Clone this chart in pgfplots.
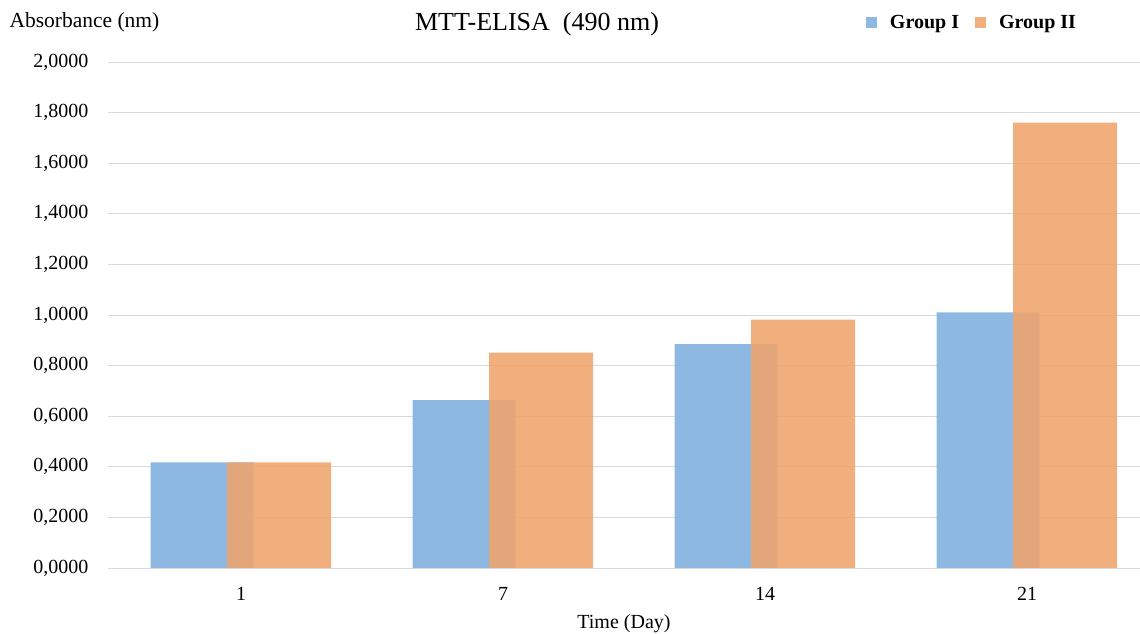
\documentclass[border=0pt]{standalone}
\usepackage{fontspec}
\setmainfont{Liberation Serif}
\usepackage{pgfplots}
\pgfplotsset{compat=1.18}

\definecolor{gblue}{RGB}{141,184,226}
\definecolor{gorange}{RGB}{240,164,108}
\definecolor{gridgray}{RGB}{217,217,217}

\pgfplotstableread{
x  g1     g2
0  0.417  0.417
1  0.664  0.851
2  0.885  0.982
3  1.010  1.760
}\absdata

\begin{document}
\begin{tikzpicture}
\useasboundingbox (0,0) rectangle (1140bp,634bp);
\begin{axis}[
  at={(108bp,66bp)}, anchor=south west,
  scale only axis,
  width=1032bp, height=506bp,
  xmin=-0.508, xmax=3.431,
  ymin=0, ymax=2,
  ytick={0,0.2,...,2.01},
  xtick={0,1,2,3},
  xticklabels={1,7,14,21},
  ymajorgrids,
  major grid style={gridgray, line width=0.9bp},
  axis line style={draw=none},
  tick style={draw=none},
  font=\fontsize{20bp}{24bp}\selectfont,
  /pgf/number format/assume math mode=true,
  yticklabel={\pgfmathprintnumber[fixed, fixed zerofill, precision=4, use comma]{\tick}},
  yticklabel style={xshift=-16bp},
  xticklabel style={yshift=-16bp},
  xlabel={Time (Day)},
  xlabel style={yshift=-7bp},
  legend columns=2,
  legend style={draw=none, fill=none, at={(0.943,1.100)}, anchor=north east,
    font=\fontsize{20bp}{24bp}\selectfont\bfseries,
    /tikz/every odd column/.append style={column sep=11bp},
    /tikz/every even column/.append style={column sep=14bp}},
  legend image code/.code={\fill[#1] (0bp,-5.5bp) rectangle (11bp,5.5bp);},
]
\addplot[ybar, bar width=103bp, bar shift=-39bp, draw=none, fill=gblue]
  table[x=x, y=g1]{\absdata};
\addlegendentry{Group I}
\addplot[ybar, bar width=104bp, bar shift=38bp, draw=none, fill=gorange, fill opacity=0.875]
  table[x=x, y=g2]{\absdata};
\addlegendentry{Group II}
\end{axis}
\node[anchor=west, font=\fontsize{21.5bp}{25bp}\selectfont] at (6bp,612bp) {Absorbance (nm)};
\node[font=\fontsize{26bp}{30bp}\selectfont] at (537bp,610bp) {MTT-ELISA\ \ (490 nm)};
\end{tikzpicture}
\end{document}
